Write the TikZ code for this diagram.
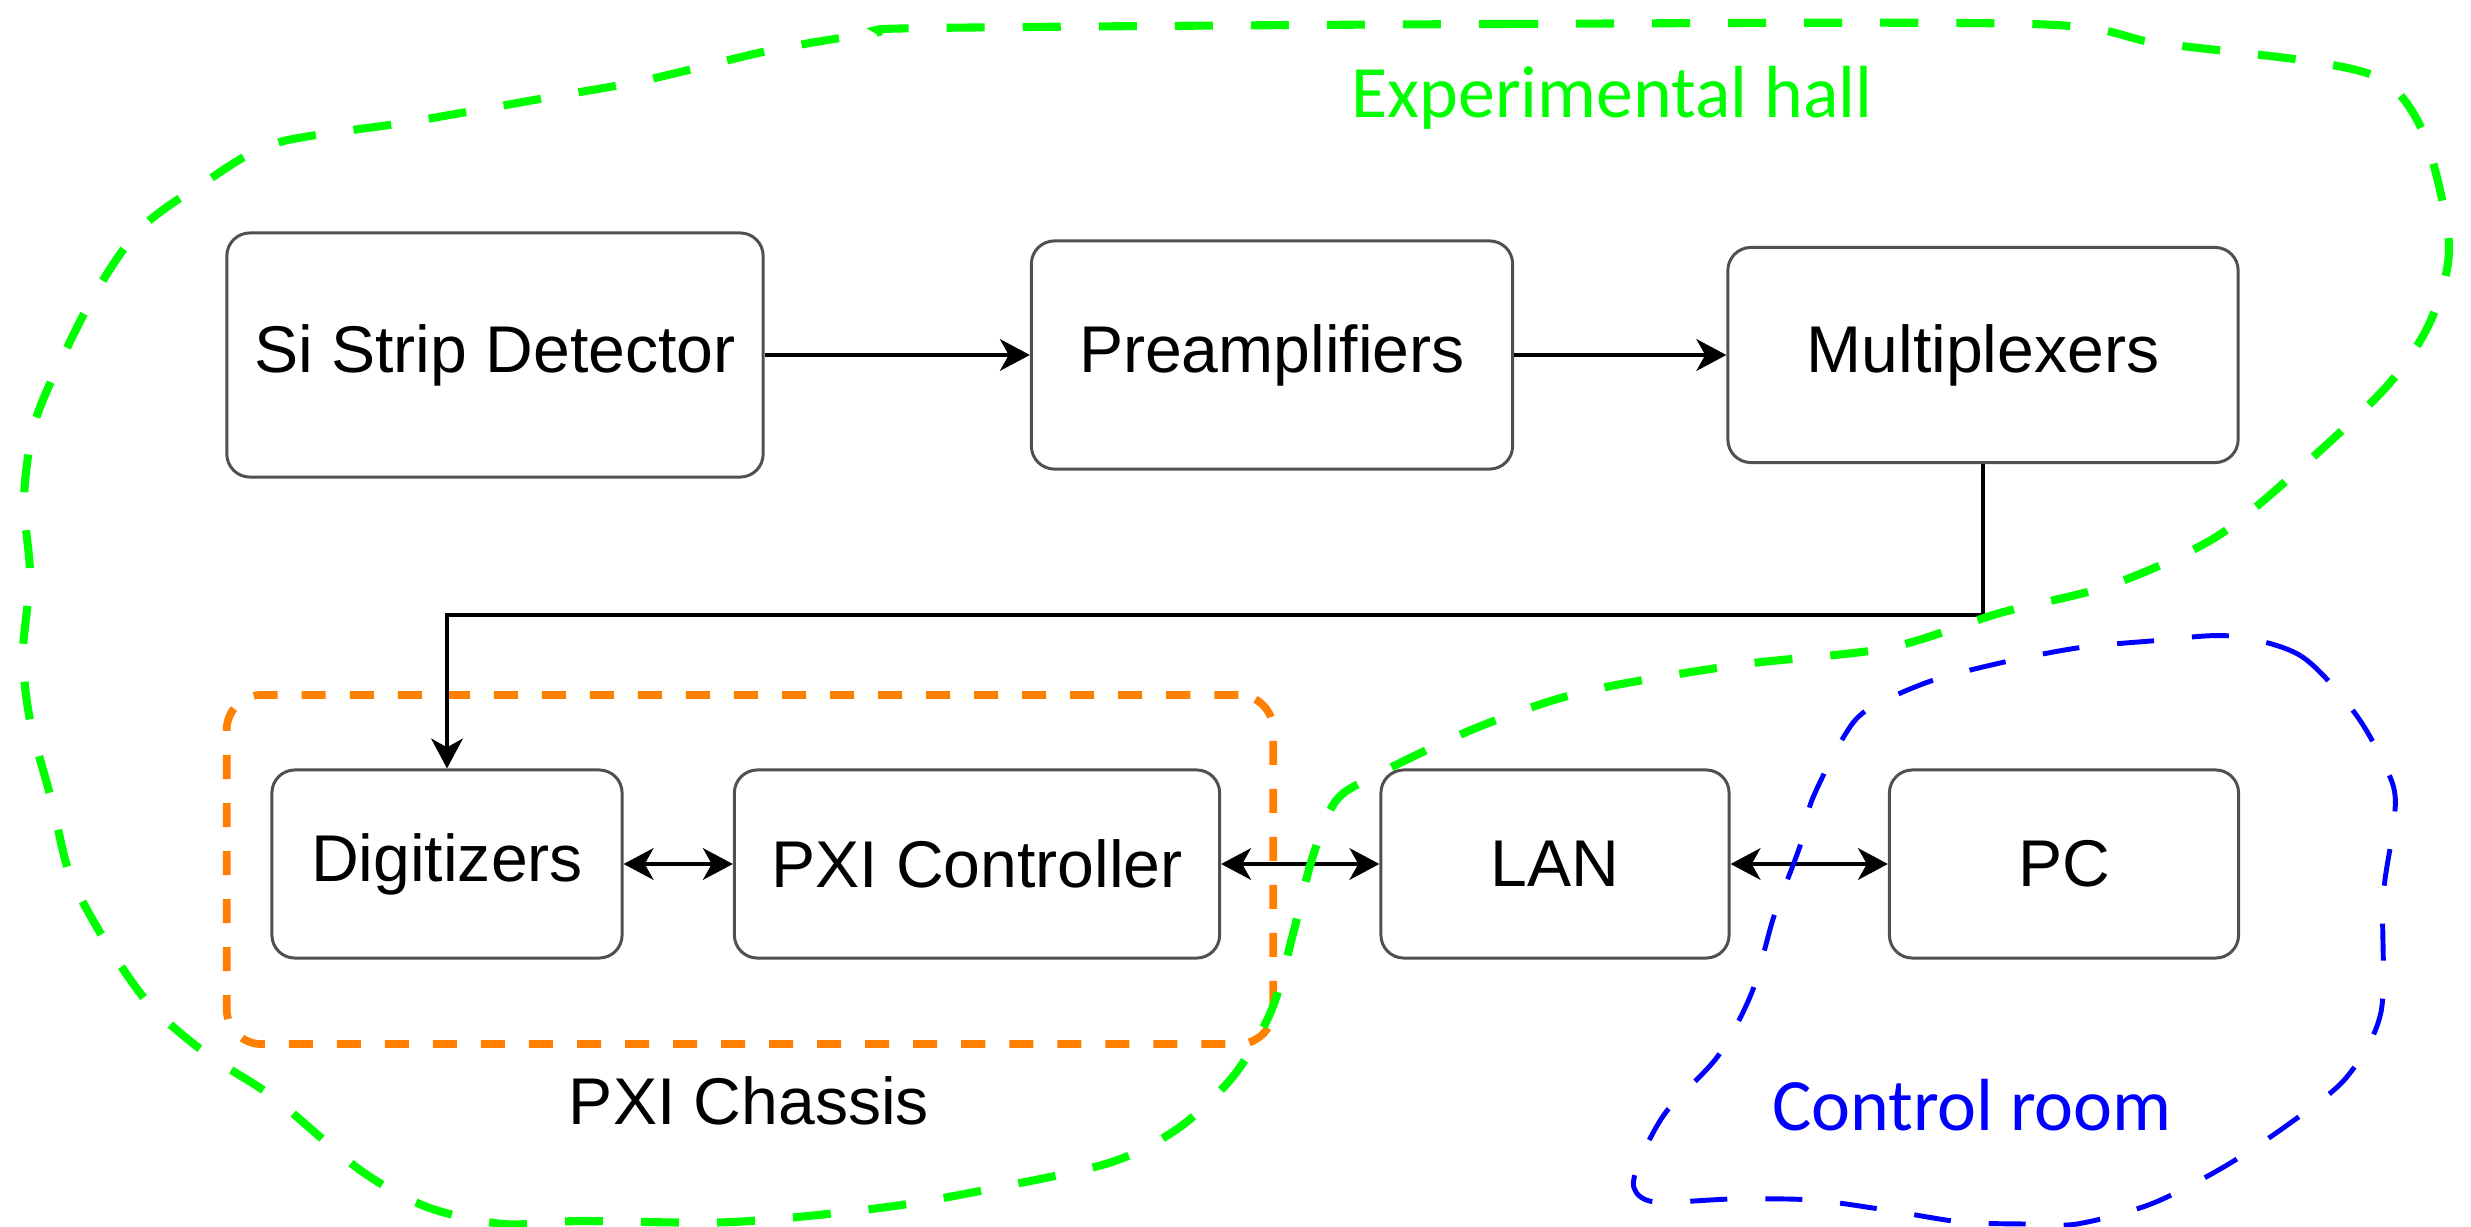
\documentclass[tikz,border=0pt]{standalone}
\usepackage{fontspec}
\setmainfont{Liberation Sans}
\newfontfamily\calibri{Carlito}
\usepackage{xcolor}
\usetikzlibrary{arrows.meta}

\definecolor{hallgreen}{HTML}{00FF00}
\definecolor{roomblue}{HTML}{0000FF}
\definecolor{chassisorange}{HTML}{FF8000}
\definecolor{boxgray}{HTML}{505050}

\begin{document}
\begin{tikzpicture}[x=0.01cm,y=-0.01cm,
		block/.style={draw=boxgray,line width=0.85pt,rounded corners=0.23cm,fill=white,inner sep=0pt,font=\fontsize{18.8}{22}\selectfont},
		tip/.style={Stealth[length=8.5pt,width=9pt,inset=2.5pt]},
		link/.style={line width=1.1pt,-{Stealth[length=8.5pt,width=9pt,inset=2.5pt]}},
		duplex/.style={line width=1.1pt,{Stealth[length=8.5pt,width=9pt,inset=2.5pt]}-{Stealth[length=8.5pt,width=9pt,inset=2.5pt]}},
		hall/.style={draw=hallgreen,line width=2.3pt,dash pattern=on 0.38cm off 0.38cm},
		room/.style={draw=roomblue,line width=1.4pt,dash pattern=on 0.37cm off 0.38cm},
		chassis/.style={draw=chassisorange,line width=2.2pt,dash pattern=on 0.24cm off 0.24cm,rounded corners=0.35cm,inner sep=0pt}]
	\useasboundingbox (0,0) rectangle (2471,1227);
	\node[chassis,minimum width=10.46cm,minimum height=3.49cm] (chassis) at (750,869.5) {};
	\node[block,minimum width=5.36cm,minimum height=2.44cm] (detector) at (495,355) {Si Strip Detector};
	\node[block,minimum width=4.81cm,minimum height=2.28cm] (preamp) at (1272,355) {Preamplifiers};
	\node[block,minimum width=5.10cm,minimum height=2.15cm] (mux) at (1983,355) {Multiplexers};
	\node[block,minimum width=3.50cm,minimum height=1.88cm] (digitizer) at (447,864) {Digitizers};
	\node[block,minimum width=4.85cm,minimum height=1.88cm] (controller) at (977,864) {PXI Controller};
	\node[block,minimum width=3.48cm,minimum height=1.88cm] (lan) at (1555,864) {LAN};
	\node[block,minimum width=3.49cm,minimum height=1.88cm] (pc) at (2064,864) {PC};
	\coordinate (turn) at (1983,615);
	\draw[link] (detector) -- (preamp);
	\draw[link] (preamp) -- (mux);
	\draw[link] (mux.south) -- (turn) -| (digitizer.north);
	\draw[duplex] (digitizer) -- (controller);
	\draw[duplex] (controller) -- (lan);
	\draw[duplex] (lan) -- (pc);
	\node[anchor=base,font=\fontsize{18.8}{22}\selectfont] (chassisname) at (749,1124) {PXI Chassis};
	\draw[hall] plot[smooth cycle,tension=0.5] coordinates {
		(929,28) (1500,24) (2031,24) (2157,43) (2315,62) (2386,82) (2425,137) (2449,245)
		(2431,320) (2388,385) (2304,465) (2216,537) (2111,585) (2000,613) (1888,648)
		(1737,665) (1583,692) (1476,728) (1372,777) (1335,802) (1312,859) (1293,934)
		(1272,1009) (1235,1074) (1180,1127) (1112,1162) (1000,1187) (887,1207) (733,1222)
		(580,1221) (503,1224) (427,1207) (360,1170) (273,1097) (208,1055) (150,1005)
		(107,944) (70,875) (52,802) (30,720) (23,653) (30,575) (24,498) (35,422) (65,352)
		(100,285) (142,227) (205,182) (276,143) (409,122) (551,97) (646,80) (772,50) (874,33)};
	\draw[room] plot[smooth cycle,tension=0.5] coordinates {
		(2230,636) (2301,656) (2357,716) (2392,782) (2394,822) (2383,898) (2381,1012)
		(2346,1078) (2286,1126) (2222,1168) (2151,1204) (2077,1224) (2024,1224) (1961,1222)
		(1886,1210) (1812,1200) (1733,1199) (1655,1202) (1634,1188) (1640,1160) (1666,1112)
		(1718,1056) (1752,992) (1774,916) (1800,846) (1812,800) (1843,738) (1867,710)
		(1928,682) (2000,663) (2077,648) (2151,641)};
	\node[anchor=base,font={\calibri\fontsize{21}{25}\selectfont},text=hallgreen] (hallname) at (1612,117) {Experimental hall};
	\node[anchor=base,font={\calibri\fontsize{21}{25}\selectfont},text=roomblue] (roomname) at (1972,1130) {Control room};
\end{tikzpicture}
\end{document}
